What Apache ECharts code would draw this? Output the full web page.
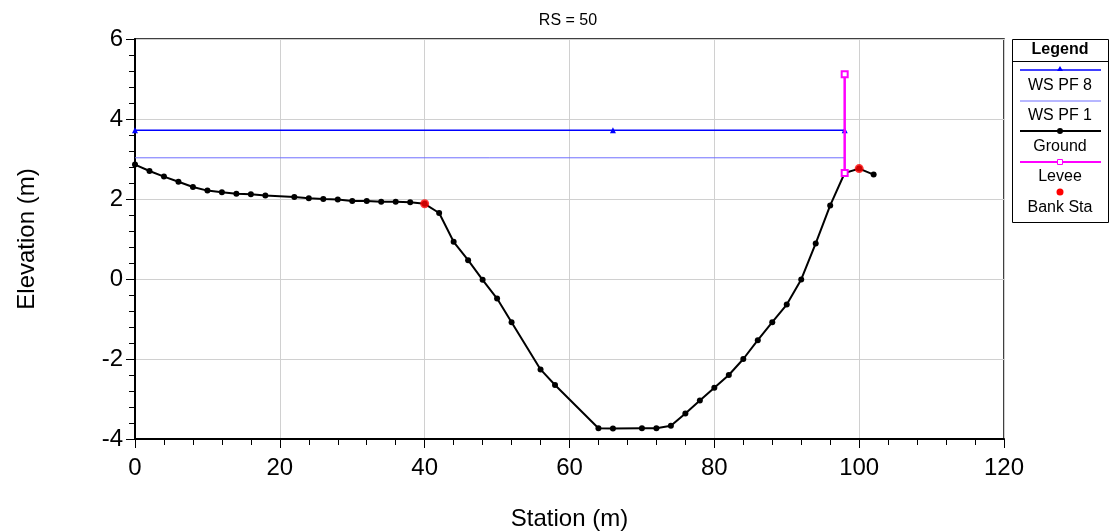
<!DOCTYPE html>
<html>
<head>
<meta charset="utf-8">
<script src="https://cdn.jsdelivr.net/npm/echarts@6/dist/echarts.min.js"></script>
<style>
  html, body { margin: 0; padding: 0; background: #fff; }
  #main { width: 1110px; height: 532px; }
</style>
</head>
<body>
<div id="main"></div>
<script>
// ground profile
const groundSta = [0, 2, 4, 6, 8, 10, 12, 14, 16, 18, 22, 24, 26, 28, 30, 32, 34, 36, 38, 40, 42, 44, 46, 48, 50, 52, 56, 58, 64, 66, 70, 72, 74, 76, 78, 80, 82, 84, 86, 88, 90, 92, 94, 96, 98, 100, 102]
const groundElev = [2.86, 2.70, 2.56, 2.43, 2.30, 2.21, 2.17, 2.13, 2.12, 2.09, 2.05, 2.02, 2.00, 1.99, 1.95, 1.95, 1.93, 1.93, 1.92, 1.88, 1.65, 0.93, 0.47, -0.02, -0.49, -1.08, -2.26, -2.65, -3.73, -3.74, -3.73, -3.73, -3.67, -3.36, -3.04, -2.72, -2.40, -2.00, -1.53, -1.08, -0.64, -0.01, 0.89, 1.84, 2.65, 2.76, 2.61]

// water surfaces
const wsPf8Sta = [0, 66, 98]
const wsPf8Elev = [3.72, 3.72, 3.72]
const wsPf1Sta = [0, 98]
const wsPf1Elev = [3.03, 3.03]

// levee
const leveeSta = [98, 98]
const leveeElev = [2.65, 5.12]

// bank stations
const bankSta = [40, 100]
const bankElev = [1.88, 2.76]

const legendNames = ['WS PF 8', 'WS PF 1', 'Ground', 'Levee', 'Bank Sta']

const zip = (xs, ys) => xs.map((x, i) => [x, ys[i]])
const font = 'Liberation Sans, Arial, sans-serif'

const chart = echarts.init(document.getElementById('main'))

// legend box drawn by hand (HEC-RAS style: sample above, name below)
const lg = { x: 1012, y: 39, w: 96, h: 183 }
const cx = lg.x + lg.w / 2
const legendItems = [
  { type: 'rect', shape: { x: lg.x + 0.5, y: lg.y + 0.5, width: lg.w, height: lg.h }, style: { fill: '#fff', stroke: '#000', lineWidth: 1 } },
  { type: 'text', x: cx, y: 50, style: { text: 'Legend', font: 'bold 16px ' + font, fill: '#000', align: 'center', verticalAlign: 'middle' } },
  { type: 'line', shape: { x1: lg.x, y1: 61.5, x2: lg.x + lg.w, y2: 61.5 }, style: { stroke: '#000', lineWidth: 1 } },
]
const rows = [
  { lineY: 70, textY: 86, color: '#0000ff', width: 1.5, symbol: 'triangle' },
  { lineY: 101, textY: 116, color: '#6f6fff', width: 1, symbol: null },
  { lineY: 131, textY: 147, color: '#000', width: 2, symbol: 'circle' },
  { lineY: 162, textY: 177, color: '#ff00ff', width: 2, symbol: 'square' },
  { lineY: 192, textY: 208, color: null, width: 0, symbol: 'dot' },
]
rows.forEach((r, i) => {
  if (r.color) {
    legendItems.push({ type: 'line', shape: { x1: lg.x + 8, y1: r.lineY, x2: lg.x + lg.w - 7, y2: r.lineY }, style: { stroke: r.color, lineWidth: r.width } })
  }
  if (r.symbol === 'triangle') {
    legendItems.push({ type: 'polygon', shape: { points: [[cx, r.lineY - 4], [cx - 3, r.lineY + 1], [cx + 3, r.lineY + 1]] }, style: { fill: '#0000ff' } })
  } else if (r.symbol === 'circle') {
    legendItems.push({ type: 'circle', shape: { cx: cx, cy: r.lineY, r: 3 }, style: { fill: '#000' } })
  } else if (r.symbol === 'square') {
    legendItems.push({ type: 'rect', shape: { x: cx - 2.5, y: r.lineY - 2.5, width: 5, height: 5 }, style: { fill: '#fff', stroke: '#ff00ff', lineWidth: 1 } })
  } else if (r.symbol === 'dot') {
    legendItems.push({ type: 'circle', shape: { cx: cx, cy: r.lineY, r: 3.5 }, style: { fill: '#ff0000' } })
  }
  legendItems.push({ type: 'text', x: cx, y: r.textY, style: { text: legendNames[i], font: '16px ' + font, fill: '#000', align: 'center', verticalAlign: 'middle' } })
})

const option = {
  animation: false,
  backgroundColor: '#fff',
  textStyle: { fontFamily: font },
  title: {
    text: 'RS = 50',
    left: 563,
    top: 8,
    textAlign: 'center',
    textStyle: { fontSize: 16, fontWeight: 'normal', color: '#000', fontFamily: font },
  },
  grid: {
    left: 135,
    right: 106,
    top: 39,
    bottom: 93,
    outerBoundsMode: 'none',
    containLabel: false,
    show: true,
    borderColor: '#000',
    borderWidth: 1.5,
  },
  xAxis: {
    type: 'value',
    min: 0,
    max: 120,
    interval: 20,
    name: 'Station (m)',
    nameLocation: 'middle',
    nameGap: 68,
    nameTextStyle: { fontSize: 24, color: '#000' },
    axisLine: { show: true, onZero: false, lineStyle: { color: '#000', width: 2 } },
    axisTick: { show: true, inside: false, length: 9, lineStyle: { color: '#000', width: 1 } },
    minorTick: { show: true, splitNumber: 5, length: 6, lineStyle: { color: '#000', width: 1 } },
    axisLabel: { fontSize: 24, color: '#000', margin: 17 },
    splitLine: { show: true, lineStyle: { color: '#d0d0d0', width: 1 } },
  },
  yAxis: {
    type: 'value',
    min: -4,
    max: 6,
    interval: 2,
    name: 'Elevation (m)',
    nameLocation: 'middle',
    nameGap: 96,
    nameTextStyle: { fontSize: 24, color: '#000' },
    axisLine: { show: true, onZero: false, lineStyle: { color: '#000', width: 2 } },
    axisTick: { show: true, inside: false, length: 9, lineStyle: { color: '#000', width: 1 } },
    minorTick: { show: true, splitNumber: 5, length: 6, lineStyle: { color: '#000', width: 1 } },
    axisLabel: { fontSize: 24, color: '#000', margin: 12 },
    splitLine: { show: true, lineStyle: { color: '#d0d0d0', width: 1 } },
  },
  series: [
    {
      name: 'WS PF 1',
      type: 'line',
      data: zip(wsPf1Sta, wsPf1Elev),
      showSymbol: false,
      lineStyle: { color: '#6f6fff', width: 1 },
      z: 2,
    },
    {
      name: 'WS PF 8',
      type: 'line',
      data: zip(wsPf8Sta, wsPf8Elev),
      symbol: 'triangle',
      symbolSize: 6,
      itemStyle: { color: '#0000ff' },
      lineStyle: { color: '#0000ff', width: 1.5 },
      z: 3,
    },
    {
      name: 'Ground',
      type: 'line',
      data: zip(groundSta, groundElev),
      symbol: 'circle',
      symbolSize: 6,
      itemStyle: { color: '#000' },
      lineStyle: { color: '#000', width: 2 },
      z: 4,
    },
    {
      name: 'Levee',
      type: 'line',
      data: zip(leveeSta, leveeElev),
      symbol: 'emptyRect',
      symbolSize: 6,
      itemStyle: { color: '#ff00ff', borderColor: '#ff00ff', borderWidth: 1 },
      lineStyle: { color: '#ff00ff', width: 2.5 },
      z: 5,
    },
    {
      name: 'Bank Sta',
      type: 'scatter',
      data: zip(bankSta, bankElev),
      symbol: 'circle',
      symbolSize: 9,
      itemStyle: { color: '#ff0000' },
      z: 6,
    },
  ],
  graphic: legendItems,
}

chart.setOption(option)
</script>
</body>
</html>
